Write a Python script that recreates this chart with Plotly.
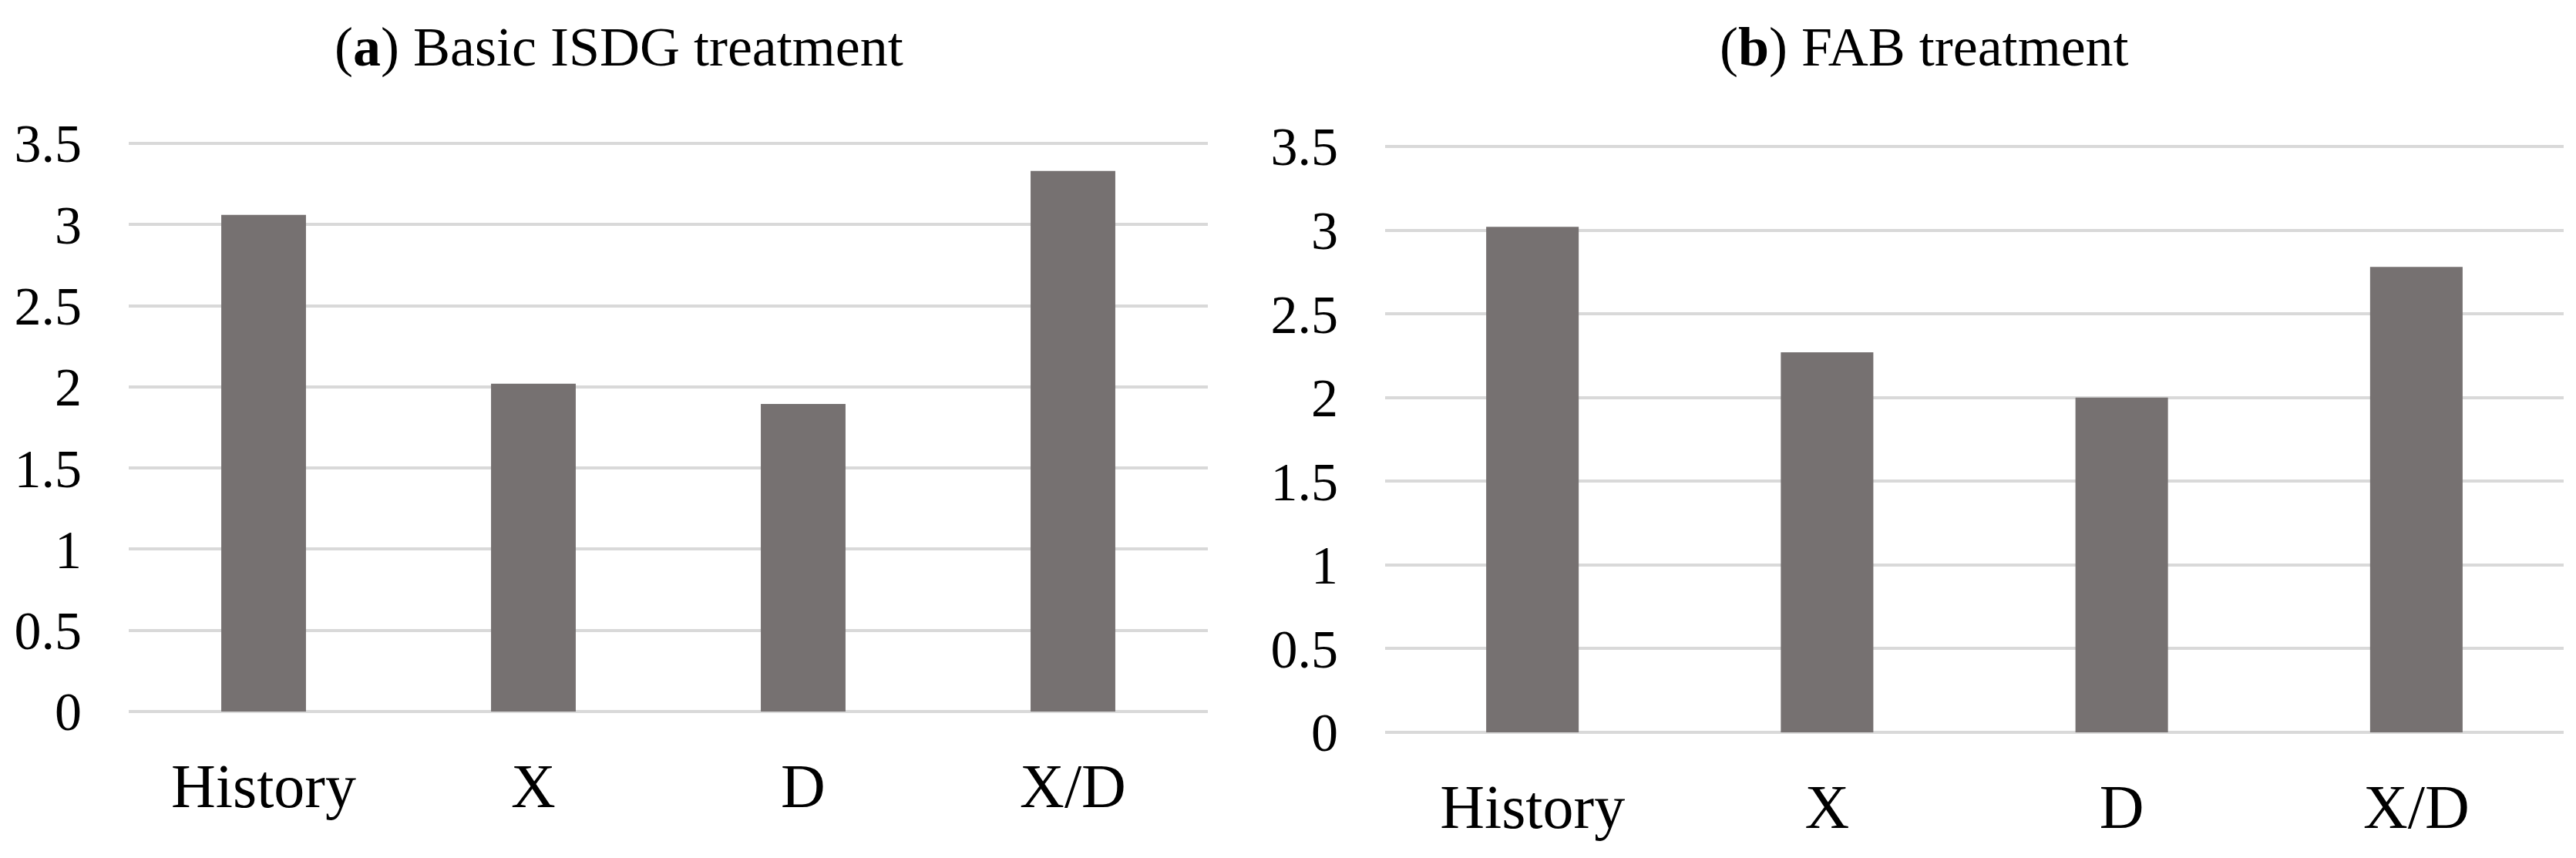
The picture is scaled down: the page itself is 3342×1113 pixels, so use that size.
import plotly.graph_objects as go

categories = ["History", "X", "D", "X/D"]
basic_isdg = [3.06, 2.02, 1.895, 3.33]
fab = [3.02, 2.27, 2.00, 2.78]
y_ticks = [0, 0.5, 1, 1.5, 2, 2.5, 3, 3.5]
y_tick_labels = ["0", "0.5", "1", "1.5", "2", "2.5", "3", "3.5"]
titles = ["(<b>a</b>) Basic ISDG treatment", "(<b>b</b>) FAB treatment"]

SW, SH = 3342, 1113       # browser window
OFF = 8                   # default body margin of the page
W, H = SW - 2 * OFF, SH - 2 * OFF
BAR = "#767171"
GRID = "#d9d9d9"
FONT = "Liberation Serif, Times New Roman, serif"
EPS = 0.02  # small range padding so the 0 and 3.5 grid lines are drawn

fig = go.Figure()
fig.add_trace(go.Bar(x=categories, y=basic_isdg, marker=dict(color=BAR, line=dict(width=0)),
                     xaxis="x", yaxis="y", showlegend=False))
fig.add_trace(go.Bar(x=categories, y=fab, marker=dict(color=BAR, line=dict(width=0)),
                     xaxis="x2", yaxis="y2", showlegend=False))

def px_x(sx):
    return (sx - OFF) / W

def px_y(sy):
    return 1 - (sy - OFF) / H

def xd(a, b):
    return [px_x(a), min(1.0, px_x(b))]

def yd(top, bottom):
    pad = (bottom - top) / 3.5 * EPS
    return [px_y(bottom + pad), px_y(top - pad)]

xcommon = dict(showgrid=False, zeroline=False, showline=False, ticks="",
               automargin=False,
               tickfont=dict(family=FONT, size=80, color="#000000"),
               ticklabelstandoff=39)
ycommon = dict(range=[-EPS, 3.5 + EPS], tickvals=y_ticks, ticktext=y_tick_labels,
               showgrid=True, gridcolor=GRID, gridwidth=4, zeroline=False,
               showline=False, ticks="", automargin=False,
               tickfont=dict(family=FONT, size=70, color="#000000"),
               ticklabelstandoff=60)

fig.update_layout(
    width=W, height=H, autosize=False,
    margin=dict(l=0, r=0, t=0, b=0, pad=0, autoexpand=False),
    paper_bgcolor="white", plot_bgcolor="white",
    bargap=0.686,
    xaxis=dict(domain=xd(167, 1567), anchor="y", **xcommon),
    yaxis=dict(domain=yd(186, 923), anchor="x", **ycommon),
    xaxis2=dict(domain=xd(1797, 3326), anchor="y2", **xcommon),
    yaxis2=dict(domain=yd(190, 950), anchor="x2", **ycommon),
    annotations=[
        dict(text=titles[0], x=px_x(803), y=px_y(61), xref="paper", yref="paper",
             xanchor="center", yanchor="middle", showarrow=False,
             font=dict(family=FONT, size=72, color="#000000")),
        dict(text=titles[1], x=px_x(2496), y=px_y(61), xref="paper", yref="paper",
             xanchor="center", yanchor="middle", showarrow=False,
             font=dict(family=FONT, size=72, color="#000000")),
    ],
)

fig.write_html("out.html")
